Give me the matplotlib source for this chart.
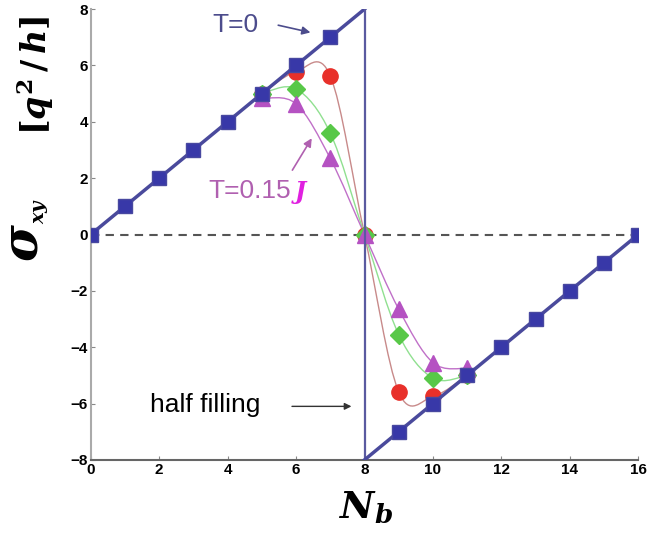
import numpy as np
import matplotlib
matplotlib.use('Agg')
import matplotlib.pyplot as plt
from matplotlib.path import Path
from matplotlib.patches import PathPatch

plt.rcParams['mathtext.fontset'] = 'custom'
plt.rcParams['mathtext.it'] = 'DejaVu Serif:italic:bold'
plt.rcParams['mathtext.rm'] = 'DejaVu Serif:bold'
plt.rcParams['mathtext.bf'] = 'DejaVu Serif:bold'

# T=0 data (squares)
nb_left = [0, 1, 2, 3, 4, 5, 6, 7]
sig_left = [0, 1, 2, 3, 4, 5, 6, 7]
nb_right = [9, 10, 11, 12, 13, 14, 15, 16]
sig_right = [-7, -6, -5, -4, -3, -2, -1, 0]
# T=0 full line incl. jump at half filling
nb_t0 = [0, 1, 2, 3, 4, 5, 6, 7, 8, 8, 9, 10, 11, 12, 13, 14, 15, 16]
sig_t0 = [0, 1, 2, 3, 4, 5, 6, 7, 8, -8, -7, -6, -5, -4, -3, -2, -1, 0]

# finite temperature curves
nb_red = [5, 6, 7, 8, 9, 10, 11]
sig_red = [5.0, 5.78, 5.63, 0.0, -5.59, -5.75, -5.0]
nb_green = [5, 6, 7, 8, 9, 10, 11]
sig_green = [5.0, 5.17, 3.6, 0.0, -3.55, -5.1, -5.0]
nb_mag = [5, 6, 7, 8, 9, 10, 11]
sig_mag = [4.83, 4.64, 2.7, 0.0, -2.65, -4.55, -4.75]


def smooth_path(x, y):
    # Catmull-Rom through the points, as cubic bezier segments
    x = np.asarray(x, float)
    y = np.asarray(y, float)
    pts = np.column_stack([x, y])
    verts = [pts[0]]
    codes = [Path.MOVETO]
    n = len(pts)
    for i in range(n - 1):
        p0 = pts[i - 1] if i > 0 else pts[i]
        p1 = pts[i]
        p2 = pts[i + 1]
        p3 = pts[i + 2] if i + 2 < n else pts[i + 1]
        c1 = p1 + (p2 - p0) / 6.0
        c2 = p2 - (p3 - p1) / 6.0
        verts += [c1, c2, p2]
        codes += [Path.CURVE4] * 3
    return Path(verts, codes)


fig = plt.figure(figsize=(6.48, 5.36), dpi=100)
ax = fig.add_axes([0.14, 0.142, 0.845, 0.841])

# zero line
ax.plot([0, 16], [0, 0], ls=(0, (4, 3)), color='#555555', lw=1.5, zorder=1)

# smooth curves
for xs, ys, c in [(nb_red, sig_red, '#c88a8a'), (nb_green, sig_green, '#90e090'),
                  (nb_mag, sig_mag, '#c070c8')]:
    ax.add_patch(PathPatch(smooth_path(xs, ys), fill=False, edgecolor=c, lw=1.0, zorder=2))

ax.plot(nb_red, sig_red, 'o', ms=11, color='#e8302a', mec='#e8302a', zorder=3)
ax.plot(nb_green, sig_green, 'D', ms=9, color='#58c848', mec='#58c848', zorder=3)
ax.plot(nb_mag, sig_mag, '^', ms=11, color='#b552c2', mec='#b552c2', zorder=3)

# T=0 line
ax.plot(nb_t0[:9], sig_t0[:9], color='#4a4a9c', lw=2.5, zorder=4)
ax.plot(nb_t0[8:10], sig_t0[8:10], color='#5a5aa0', lw=1.6, zorder=4)
ax.plot(nb_t0[9:], sig_t0[9:], color='#4a4a9c', lw=2.5, zorder=4)
ax.plot(nb_left, sig_left, 's', ms=10, color='#3838a8', mec='#4848a0', zorder=5)
ax.plot(nb_right, sig_right, 's', ms=10, color='#3838a8', mec='#4848a0', zorder=5)

# annotations
ax.text(4.23, 7.45, 'T=0', color='#4c4c8c', fontsize=19, ha='center', va='center',
        family='Liberation Sans')
ax.annotate('', xy=(6.5, 7.15), xytext=(5.4, 7.45),
            arrowprops=dict(arrowstyle='-|>', color='#4c4c8c', lw=1.2, mutation_scale=12))
ax.text(3.45, 1.55, 'T=0.15', color='#b060b0', fontsize=19, ha='left', va='center',
        family='Liberation Sans')
ax.text(5.95, 1.5, 'J', color='#e020e0', fontsize=17, ha='left', va='center',
        family='DejaVu Serif', style='italic', weight='bold')
ax.annotate('', xy=(6.5, 3.5), xytext=(5.85, 2.2),
            arrowprops=dict(arrowstyle='-|>', color='#b060b0', lw=1.2, mutation_scale=12))
ax.text(3.35, -6.05, 'half filling', color='black', fontsize=19, ha='center', va='center',
        family='Liberation Sans')
ax.annotate('', xy=(7.7, -6.1), xytext=(5.8, -6.1),
            arrowprops=dict(arrowstyle='-|>', color='#333333', lw=1.0, mutation_scale=10))

ax.set_xlim(0, 16)
ax.set_ylim(-8, 8)
ax.set_xticks(range(0, 17, 2))
ax.set_yticks(range(-8, 9, 2))
ax.tick_params(direction='in', length=3, labelsize=11, pad=2, colors='#888888',
               labelcolor='black')
for lab in ax.get_xticklabels() + ax.get_yticklabels():
    lab.set_fontweight('bold')
    lab.set_family('Liberation Sans')
ax.spines['top'].set_visible(False)
ax.spines['right'].set_visible(False)
ax.spines['left'].set_color('#aaaaaa')
ax.spines['bottom'].set_color('#666666')
ax.spines['left'].set_linewidth(1.5)
ax.spines['bottom'].set_linewidth(1.5)

# axis labels
fig.text(0.036, 0.547, r'$\sigma$', rotation=90, fontsize=36, ha='center', va='center')
fig.text(0.062, 0.606, r'$xy$', rotation=90, fontsize=14, ha='center', va='center')
fig.text(0.055, 0.86, r'$[q^2\,/\,h]$', rotation=90, fontsize=24, ha='center', va='center')
fig.text(0.565, 0.052, r'$N_b$', fontsize=27, ha='center', va='center')

fig.savefig('out.png', dpi=100)
